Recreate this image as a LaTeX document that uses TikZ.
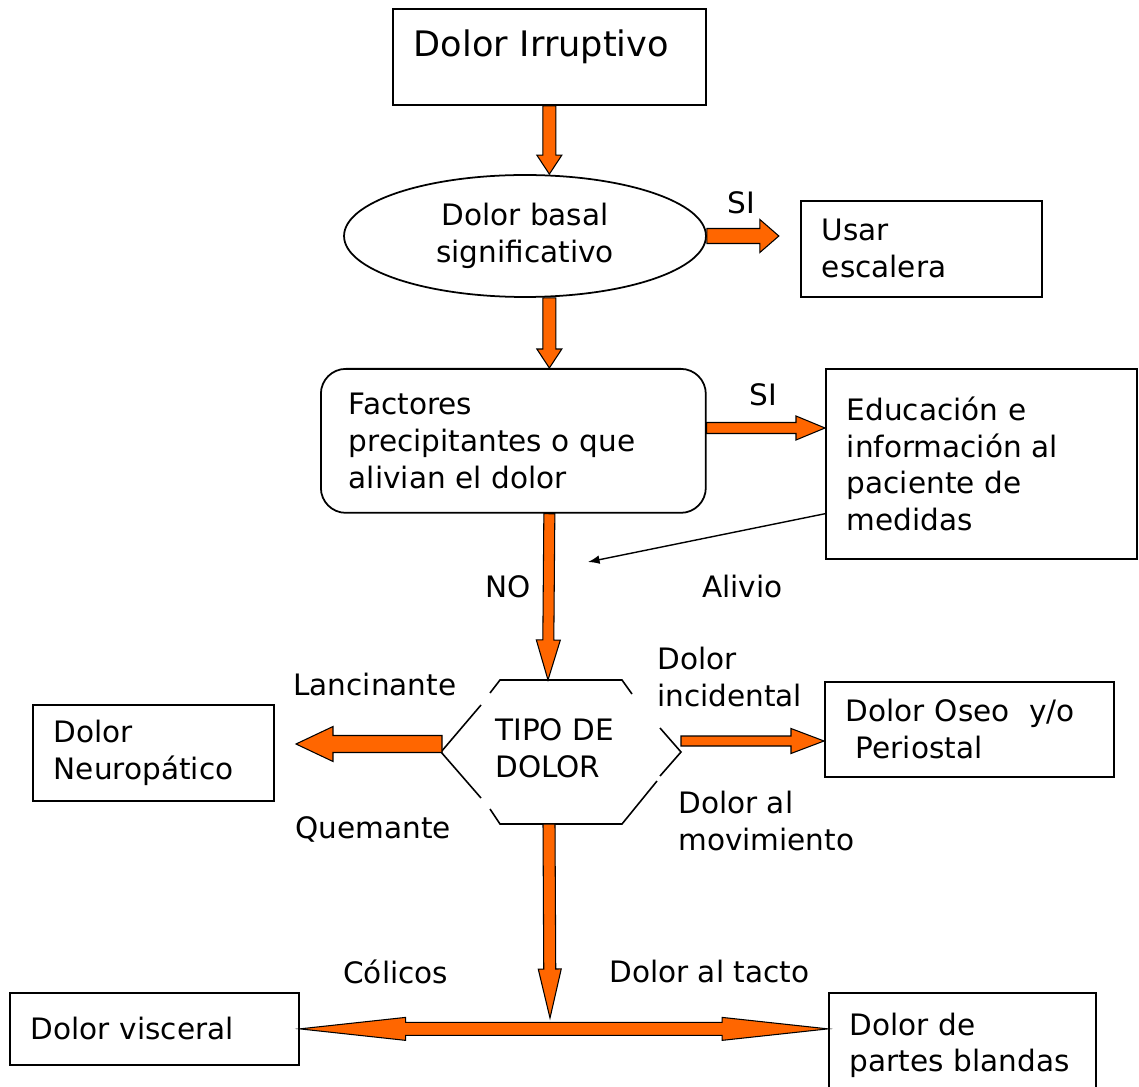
\documentclass[tikz,border=0pt]{standalone}
\usepackage{fontspec}
\setmainfont{DejaVu Sans}
\usetikzlibrary{shapes.geometric,positioning,calc,arrows.meta}
\usepackage{xcolor}
\definecolor{naranja}{HTML}{FF6600}
\newcommand{\letra}{\fontsize{16.8pt}{21pt}\selectfont}
% flecha de bloque: origen, destino, medio ancho, medio ancho punta, largo punta
\newcommand{\flecha}[5]{%
	\coordinate (fp) at ($(#2)!#5!(#1)$);
	\draw[bloque] ($(#1)!#3!90:(#2)$) -- ($(fp)!#3!-90:(#1)$) -- ($(fp)!#4!-90:(#1)$) -- (#2)
		-- ($(fp)!#4!90:(#1)$) -- ($(fp)!#3!90:(#1)$) -- ($(#1)!#3!-90:(#2)$) -- cycle;
}
\newcommand{\dobleflecha}[5]{%
	\coordinate (fa) at ($(#1)!#5!(#2)$);
	\coordinate (fb) at ($(#2)!#5!(#1)$);
	\draw[bloque] (#1) -- ($(fa)!#4!90:(#2)$) -- ($(fa)!#3!90:(#2)$) -- ($(fb)!#3!-90:(#1)$) -- ($(fb)!#4!-90:(#1)$) -- (#2)
		-- ($(fb)!#4!90:(#1)$) -- ($(fb)!#3!90:(#1)$) -- ($(fa)!#3!-90:(#2)$) -- ($(fa)!#4!-90:(#2)$) -- cycle;
}

\begin{document}
\begin{tikzpicture}[x=0.02cm,y=-0.02cm,>={Latex},
	caja/.style={draw,line width=1pt,anchor=north west,align=left,inner xsep=0.42cm,inner ysep=0pt,font=\letra},
	etiqueta/.style={anchor=north west,inner sep=0pt,align=left,font=\letra},
	bloque/.style={draw=black,fill=naranja,line width=0.6pt},
	hexa/.style={line width=0.9pt}]
	\useasboundingbox (0,0) rectangle (1139,1087);
	% cajas
	\node[caja,text width=5.42cm,minimum height=1.92cm,text height=0.3cm,text depth=0.3cm,font=\fontsize{20pt}{24pt}\selectfont] (tit) at (392,8) {Dolor Irruptivo};
	\node[ellipse,draw,line width=1pt,minimum width=7.24cm,minimum height=2.44cm,align=center,inner sep=0pt,font=\letra] (basal) at (525,236) {Dolor basal\\significativo};
	\node[caja,text width=3.98cm,minimum height=1.92cm] (usar) at (800,200) {Usar\\escalera};
	\node[caja,rounded corners=0.5cm,inner xsep=0.56cm,text width=6.58cm,minimum height=2.88cm] (fact) at (320,368) {Factores\\precipitantes~o~que\\alivian~el~dolor};
	\node[caja,text width=5.38cm,minimum height=3.8cm] (edu) at (825,368) {Educación~e\\información~al\\paciente~de\\medidas};
	\node[caja,text width=3.98cm,minimum height=1.92cm] (neuro) at (32,704) {Dolor\\Neuropático};
	\node[caja,text width=4.94cm,minimum height=1.9cm] (oseo) at (824,681) {Dolor~Oseo\ \ y/o\\\hspace*{0.2cm}Periostal};
	\node[caja,text width=4.94cm,minimum height=1.44cm] (visc) at (9,992) {Dolor~visceral};
	\node[caja,text width=4.5cm,minimum height=2.1cm] (partes) at (828,992) {Dolor~de\\partes~blandas};
	% hexagono
	\draw[hexa] (490,693) -- (500,680) -- (622,680) -- (632,694);
	\draw[hexa] (660,728) -- (681,752) -- (660,776);
	\draw[hexa] (657,781) -- (622,824) -- (500,824) -- (490,809);
	\draw[hexa] (481,798) -- (441,752) -- (481,705);
	\node[etiqueta] (tipo) at (495,718) {TIPO DE\\DOLOR};
	% etiquetas
	\node[etiqueta] (si1) at (727,191) {SI};
	\node[etiqueta] (si2) at (749,383) {SI};
	\node[etiqueta] (no) at (485,575) {NO};
	\node[etiqueta] (alivio) at (702,575) {Alivio};
	\node[etiqueta] (lanc) at (293,673) {Lancinante};
	\node[etiqueta] (quem) at (295,816) {Quemante};
	\node[etiqueta] (incid) at (657,647) {Dolor\\incidental};
	\node[etiqueta] (movim) at (678,791) {Dolor al\\movimiento};
	\node[etiqueta] (colicos) at (343,960) {Cólicos};
	\node[etiqueta] (tacto) at (609,960) {Dolor al tacto};
	% puntos de las flechas
	\coordinate (c1) at (tit.south |- basal.north);
	\coordinate (c2) at (tit.south |- basal.south);
	\coordinate (c3) at (tit.south |- fact.north);
	\coordinate (c4) at ($(basal.east)+(72,0)$);
	\coordinate (c5) at ($(fact.north east)+(0,60)$);
	\coordinate (c6) at (c5 -| edu.west);
	\coordinate (c7) at (tit.south |- fact.south);
	\coordinate (hexT) at (548,680);
	\coordinate (hexL) at (442,744);
	\coordinate (c8) at (296,744);
	\coordinate (hexR) at (681,741);
	\coordinate (c9) at (hexR -| oseo.west);
	\coordinate (hexB) at (549,824);
	\coordinate (cruce) at (550,1018);
	\coordinate (c10) at (visc.east -| partes.west);
	\coordinate (c11) at (588,562);
	% flechas
	\flecha{tit.south}{c1}{0.13cm}{0.25cm}{0.38cm}
	\flecha{c2}{c3}{0.13cm}{0.25cm}{0.38cm}
	\flecha{basal.east}{c4}{0.15cm}{0.33cm}{0.38cm}
	\flecha{c5}{c6}{0.11cm}{0.24cm}{0.58cm}
	\flecha{c7}{hexT}{0.11cm}{0.24cm}{0.8cm}
	\flecha{hexL}{c8}{0.17cm}{0.35cm}{0.74cm}
	\flecha{hexR}{c9}{0.10cm}{0.25cm}{0.66cm}
	\flecha{hexB}{cruce}{0.12cm}{0.23cm}{0.98cm}
	\dobleflecha{visc.east}{c10}{0.13cm}{0.23cm}{2.12cm}
	\draw[->,line width=0.8pt] ($(edu.south west)+(0,-46)$) -- (c11);
\end{tikzpicture}
\end{document}
